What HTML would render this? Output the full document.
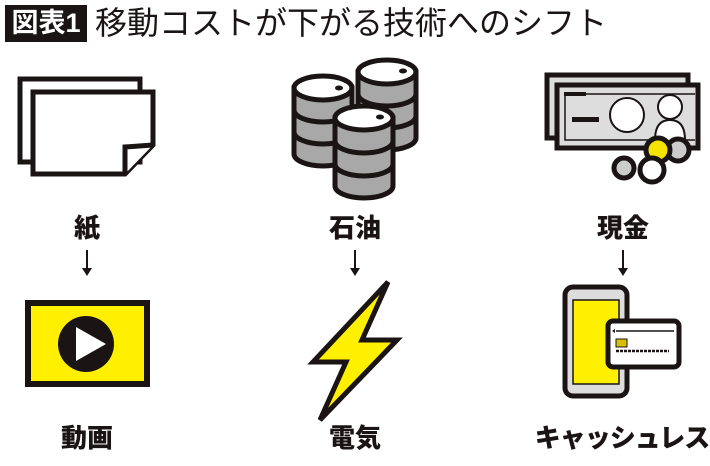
<!DOCTYPE html>
<html><head><meta charset="utf-8"><style>
html,body{margin:0;padding:0;background:#fff;}
body{width:710px;height:466px;position:relative;overflow:hidden;font-family:"Liberation Sans","Noto Sans CJK JP",sans-serif;}
.t{position:absolute;font-weight:900;font-size:26px;color:#1a1414;text-align:center;width:200px;line-height:1;}
</style></head><body>
<div style="position:absolute;left:5px;top:5px;width:82px;height:37px;background:#1a1414;color:#fff;font-size:27px;font-weight:700;line-height:37px;text-align:center;">図表1</div>
<div style="position:absolute;left:95px;top:2px;font-size:32px;line-height:42px;color:#1a1414;white-space:nowrap;">移動コストが下がる技術へのシフト</div>

<div class="t" style="left:-13px;top:215px;">紙</div>
<div class="t" style="left:255px;top:215px;">石油</div>
<div class="t" style="left:523px;top:215px;">現金</div>
<div class="t" style="left:-13px;top:425px;">動画</div>
<div class="t" style="left:255px;top:425px;">電気</div>
<div class="t" style="left:522px;top:425px;letter-spacing:-1px;">キャッシュレス</div>

<svg width="710" height="466" style="position:absolute;left:0;top:0" xmlns="http://www.w3.org/2000/svg">
<g stroke="#1a1414" stroke-width="2" fill="#1a1414">
<line x1="87" y1="250" x2="87" y2="270"/><path d="M82,268 L92,268 L87,276 Z" stroke="none"/>
<line x1="355" y1="250" x2="355" y2="270"/><path d="M350,268 L360,268 L355,276 Z" stroke="none"/>
<line x1="623" y1="250" x2="623" y2="270"/><path d="M618,268 L628,268 L623,276 Z" stroke="none"/>
</g>
<g stroke="#1a1414" stroke-width="5" fill="#fff" stroke-linejoin="miter">
<rect x="20" y="79" width="120" height="83"/>
<path d="M33,92 L153,92 L153,145 L125,174 L33,174 Z"/>
<path d="M125,174 L125,147 L153,145" />
</g>
<g stroke="#1a1414" stroke-width="5">
<path d="M294,88 L294,154 A29,12 0 0 0 352,154 L352,88 Z" fill="#a8a8a8"/>
<path d="M294,110 A29,12 0 0 0 352,110 M294,132 A29,12 0 0 0 352,132" fill="none"/>
<ellipse cx="323" cy="88" rx="29" ry="12" fill="#fff"/>
<ellipse cx="339" cy="88" rx="4" ry="2.5" fill="#1a1414" stroke="none"/>
<path d="M358,72 L358,138 A29,12 0 0 0 416,138 L416,72 Z" fill="#a8a8a8"/>
<path d="M358,94 A29,12 0 0 0 416,94 M358,116 A29,12 0 0 0 416,116" fill="none"/>
<ellipse cx="387" cy="72" rx="29" ry="12" fill="#fff"/>
<ellipse cx="403" cy="71" rx="4" ry="2.5" fill="#1a1414" stroke="none"/>
<path d="M335,118 L335,186 A29,12 0 0 0 393,186 L393,118 Z" fill="#a8a8a8"/>
<path d="M335,141 A29,12 0 0 0 393,141 M335,164 A29,12 0 0 0 393,164" fill="none"/>
<ellipse cx="364" cy="118" rx="29" ry="12" fill="#fff"/>
<ellipse cx="380" cy="117" rx="4" ry="2.5" fill="#1a1414" stroke="none"/>
</g>
<g stroke="#1a1414">
<rect x="547" y="75" width="141" height="63" fill="#ddd" stroke-width="5"/>
<rect x="557" y="85" width="141" height="63" fill="#ddd" stroke-width="5"/>
<path d="M565,94 L695,94 M565,94 L565,140 L695,140" fill="none" stroke-width="1.5"/>
<rect x="564" y="92" width="22" height="4" fill="#1a1414" stroke="none"/>
<rect x="572" y="117" width="27" height="5" fill="#1a1414" stroke="none"/>
<circle cx="627" cy="115" r="17" fill="#fff" stroke-width="2"/>
<circle cx="670" cy="107" r="12" fill="#fff" stroke-width="2"/>
<path d="M655,140 Q655,120 670,120 Q685,120 685,140" fill="#fff" stroke-width="2"/>
<circle cx="678" cy="150" r="11" fill="#ccc" stroke-width="5"/>
<circle cx="658" cy="150" r="12" fill="#f5e400" stroke-width="5"/>
<circle cx="624" cy="168" r="10" fill="#ccc" stroke-width="5"/>
<circle cx="652" cy="170" r="12" fill="#fff" stroke-width="5"/>
</g>
<rect x="28" y="303" width="119" height="81" fill="#fff000" stroke="#1a1414" stroke-width="6"/>
<circle cx="86" cy="344" r="28" fill="#1a1414"/>
<path d="M76,327 L76,361 L106,344 Z" fill="#fff"/>
<path d="M388,282 L313,362 L346,362 L320,420 L397,340 L362,340 Z" fill="#fff000" stroke="#1a1414" stroke-width="5" stroke-linejoin="miter"/>
<rect x="565" y="287" width="62" height="109" rx="8" fill="#ddd" stroke="#1a1414" stroke-width="5"/>
<rect x="573" y="300" width="46" height="84" fill="#fff000" stroke="#1a1414" stroke-width="1.5"/>
<rect x="608" y="321" width="71" height="46" rx="5" fill="#fff" stroke="#1a1414" stroke-width="5"/>
<path d="M616,331 L674,331" stroke="#1a1414" stroke-width="1.5"/>
<path d="M612,331 L615,329 L615,333 Z" fill="#1a1414"/>
<rect x="616" y="339" width="11" height="8" fill="#d8c000" stroke="#1a1414" stroke-width="1"/>
<path d="M616,351 L669,351" stroke="#1a1414" stroke-width="2.5" stroke-dasharray="3,1"/>
</svg>
</body></html>
